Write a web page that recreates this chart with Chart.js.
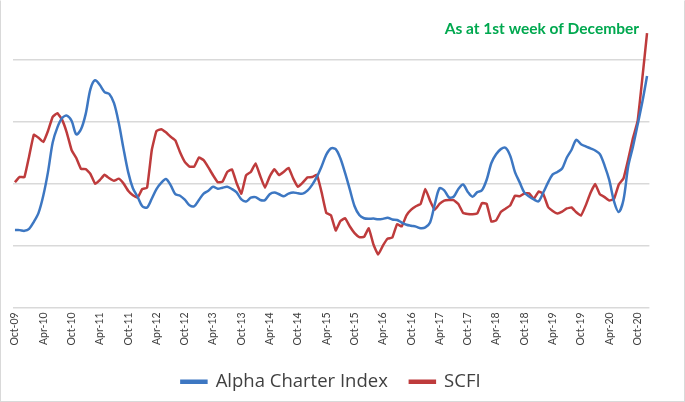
<!DOCTYPE html>
<html>
<head>
<meta charset="utf-8">
<script src="https://cdn.jsdelivr.net/npm/chart.js@4.4.0/dist/chart.umd.min.js"></script>
<style>
  html, body { margin: 0; padding: 0; background: #ffffff; }
  #wrap { position: absolute; left: 0; top: 0; width: 683px; height: 400px; border: 1px solid #d9d9d9; border-top-color: #ffffff; background: #fff; }
  canvas { display: block; }
</style>
</head>
<body>
<div id="wrap"><canvas id="c" width="683" height="400"></canvas></div>
<script>
// ---- data ----
const startMonth = 9;   // October (0-based)
const startYear = 2009;
const monthNames = ['Jan','Feb','Mar','Apr','May','Jun','Jul','Aug','Sep','Oct','Nov','Dec'];
const tickLabels = ['Oct-09','Apr-10','Oct-10','Apr-11','Oct-11','Apr-12','Oct-12','Apr-13','Oct-13','Apr-14','Oct-14','Apr-15','Oct-15','Apr-16','Oct-16','Apr-17','Oct-17','Apr-18','Oct-18','Apr-19','Oct-19','Apr-20','Oct-20'];
const gridValues = [0, 500, 1000, 1500, 2000];

const alphaCharter = [
 624,624,618,634,691,764,902,1093,1333,1455,1530,1550,1508,1398,1439,1564,1764,1836,1797,1740,
 1724,1650,1492,1285,1093,963,894,817,807,878,956,1006,1037,988,915,902,870,825,817,868,
 919,943,974,959,967,974,956,929,872,856,886,891,867,867,914,928,914,898,919,929,
 922,919,943,990,1054,1138,1234,1285,1279,1203,1084,951,817,746,720,715,717,711,715,724,
 710,706,685,667,659,652,640,646,685,833,963,946,889,894,957,993,933,894,931,946,
 1031,1167,1237,1279,1290,1224,1093,1010,927,896,872,857,928,1008,1075,1094,1122,1211,1274,1354,
 1319,1301,1285,1268,1238,1146,1028,857,771,868,1138,1296,1475,1659,1870
];
const scfi = [
 1011,1054,1052,1220,1395,1370,1336,1425,1539,1570,1515,1411,1272,1207,1119,1117,1078,999,1029,1071,
 1043,1023,1040,1002,943,906,886,957,966,1270,1425,1440,1415,1379,1350,1253,1176,1137,1137,1211,
 1189,1131,1067,1011,1016,1094,1115,1003,919,1068,1094,1163,1061,967,1057,1116,1069,1096,1128,1040,
 974,1008,1051,1053,1072,931,763,743,621,698,720,653,600,568,569,639,508,426,498,555,
 563,672,654,744,789,817,835,957,862,788,836,863,867,867,835,763,754,753,758,843,
 836,693,702,771,797,824,902,898,920,921,876,936,917,813,779,759,774,799,807,768,
 742,824,924,996,914,891,863,876,992,1041,1194,1366,1504,1850,2217
];

const categories = alphaCharter.map((_, i) => {
  const m = (startMonth + i) % 12;
  const y = startYear + Math.floor((startMonth + i) / 12);
  return monthNames[m] + '-' + String(y % 100).padStart(2, '0');
});

const noteText = 'As at 1st week of December';

const notePlugin = {
  id: 'note',
  afterDraw(chart) {
    const ctx = chart.ctx;
    ctx.save();
    ctx.font = 'bold 15.5px Lato, "Liberation Sans", sans-serif';
    ctx.fillStyle = '#00a84f';
    ctx.textAlign = 'right';
    ctx.textBaseline = 'middle';
    ctx.fillText(noteText, 638, 28);
    ctx.restore();
  }
};

new Chart(document.getElementById('c'), {
  type: 'line',
  data: {
    labels: categories,
    datasets: [
      { label: 'Alpha Charter Index', data: alphaCharter, borderColor: '#3d77c2', backgroundColor: '#3d77c2',
        borderWidth: 2.5, pointRadius: 0, tension: 0.3, fill: false },
      { label: 'SCFI', data: scfi, borderColor: '#be3b3c', backgroundColor: '#be3b3c',
        borderWidth: 2.5, pointRadius: 0, tension: 0.1, fill: false }
    ]
  },
  options: {
    responsive: false,
    animation: false,
    layout: { padding: { left: 11.6, right: 34.6, top: 28, bottom: 0 } },
    plugins: {
      legend: {
        position: 'bottom',
        labels: {
          boxWidth: 25, boxHeight: 2, padding: 22,
          color: '#404040',
          font: { family: '"Open Sans", Lato, sans-serif', size: 18.5 }
        }
      },
      tooltip: { enabled: false },
      title: { display: false }
    },
    scales: {
      x: {
        offset: true,
        grid: { display: false, drawTicks: false },
        border: { display: false },
        ticks: {
          autoSkip: false, minRotation: 90, maxRotation: 90, padding: 5,
          color: '#404040',
          font: { family: 'Lato, "Liberation Sans", sans-serif', size: 10.5 },
          callback: function(v, i) { return i % 6 === 0 ? tickLabels[i / 6] : ''; }
        }
      },
      y: {
        min: 0, max: 2250,
        afterBuildTicks: (scale) => { scale.ticks = gridValues.map(v => ({ value: v })); },
        grid: { drawTicks: false, tickLength: 0, lineWidth: 1.5, color: '#d9d9d9' },
        border: { display: false },
        ticks: { display: false }
      }
    }
  },
  plugins: [notePlugin]
});
</script>
</body>
</html>
